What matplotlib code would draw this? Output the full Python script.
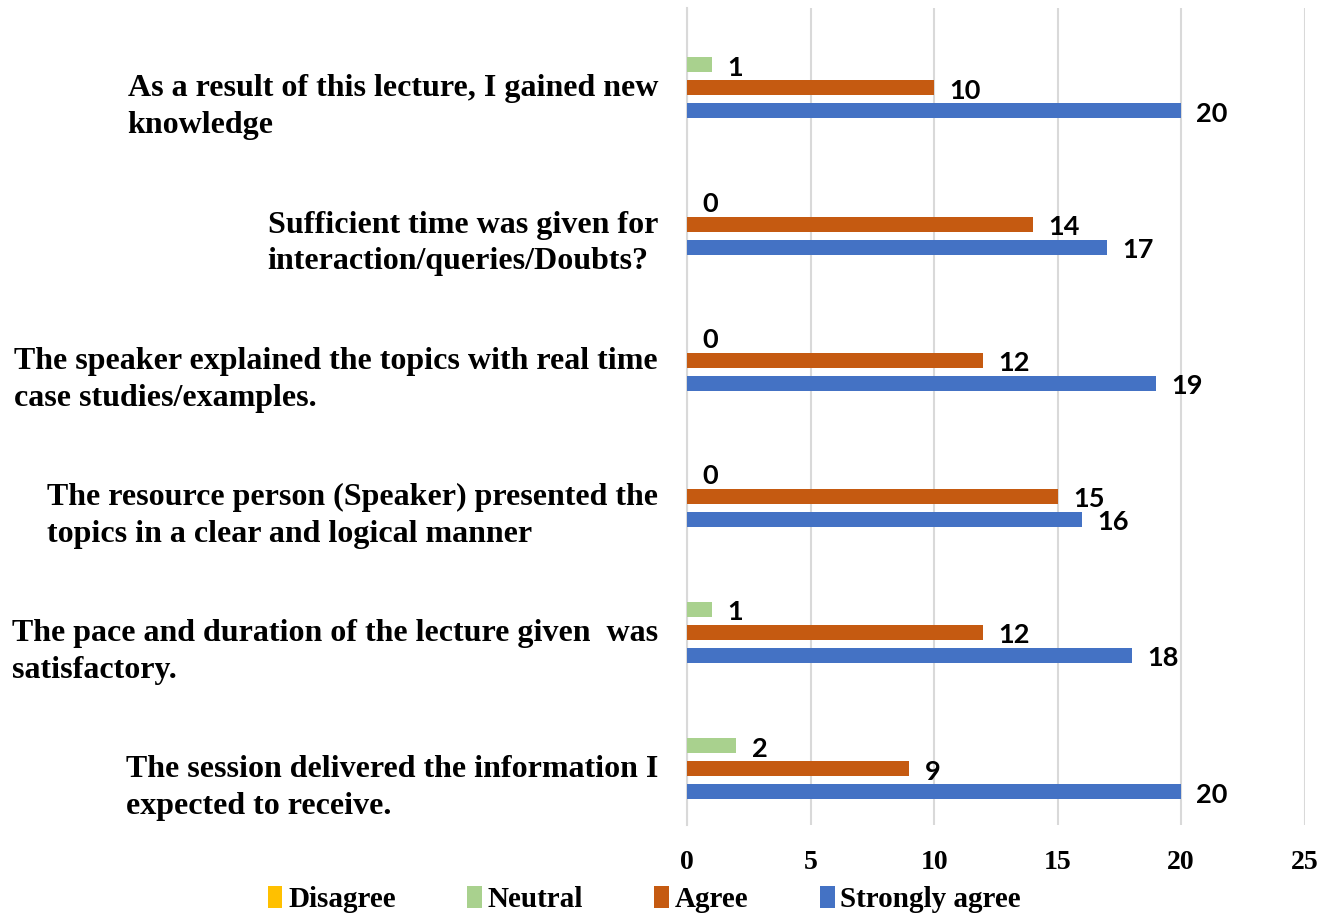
import matplotlib
matplotlib.use("Agg")
import matplotlib.pyplot as plt
import matplotlib.transforms as mtransforms
import numpy as np

categories = [
    "As a result of this lecture, I gained new\nknowledge",
    "Sufficient time was given for\ninteraction/queries/Doubts?",
    "The speaker explained the topics with real time\ncase studies/examples.",
    "The resource person (Speaker) presented the\ntopics in a clear and logical manner",
    "The pace and duration of the lecture given  was\nsatisfactory.",
    "The session delivered the information I\nexpected to receive.",
]
series_names = ["Disagree", "Neutral", "Agree", "Strongly agree"]
disagree = [0, 0, 0, 0, 0, 0]
neutral = [1, 0, 0, 0, 1, 2]
agree = [10, 14, 12, 15, 12, 9]
strongly_agree = [20, 17, 19, 16, 18, 20]
xticks = [0, 5, 10, 15, 20, 25]

colors = ["#FFC000", "#A9D18E", "#C55A11", "#4472C4"]
show_labels = [False, True, True, True]

fig = plt.figure(figsize=(13.34, 9.15), dpi=100)
ax = fig.add_axes([0.515, 0.098, 0.463, 0.893])

serif = ["Liberation Serif", "DejaVu Serif"]
sans = ["Lato", "DejaVu Sans"]

n = len(categories)
y = np.arange(n)
step = 0.169
height = 0.11
all_series = [disagree, neutral, agree, strongly_agree]
for k, (name, vals) in enumerate(zip(series_names, all_series)):
    pos = y + (k - 1.5) * step
    ax.barh(pos, vals, height=height, color=colors[k], label=name, zorder=3)
    if show_labels[k]:
        for p, v in zip(pos, vals):
            ax.annotate(str(v), xy=(v, p), xytext=(11, -2), textcoords="offset points",
                        ha="left", va="center", fontsize=19.5, fontweight="bold",
                        family=sans, color="black")

ax.set_ylim(n - 0.5, -0.5)
ax.set_xlim(0, 25)
ax.set_xticks(xticks)
ax.set_xticklabels([str(t) for t in xticks], fontsize=20, fontweight="bold", family=serif)
ax.set_yticks(y)
ax.set_yticklabels([])

label_tr = ax.get_yaxis_transform() + mtransforms.ScaledTranslation(-0.29, -0.31, fig.dpi_scale_trans)
for yi, cat in zip(y, categories):
    ax.text(0, yi, cat, transform=label_tr, ha="right", va="center",
            multialignment="left", linespacing=1.35, fontsize=23,
            fontweight="bold", family=serif, color="black")

ax.tick_params(axis="both", length=0)
ax.tick_params(axis="x", pad=18)
ax.grid(axis="x", color="#D9D9D9", linewidth=1.5, zorder=0)
for s in ["top", "right", "bottom"]:
    ax.spines[s].set_visible(False)
ax.spines["left"].set_color("#D9D9D9")
ax.spines["left"].set_linewidth(1.5)

leg = fig.legend(loc="lower center", bbox_to_anchor=(0.483, -0.027), ncol=4, frameon=False,
                 prop={"family": serif, "weight": "bold", "size": 21},
                 handlelength=0.5, handleheight=0.8, handletextpad=0.2, columnspacing=2.45)

fig.savefig("out.png", dpi=100)
